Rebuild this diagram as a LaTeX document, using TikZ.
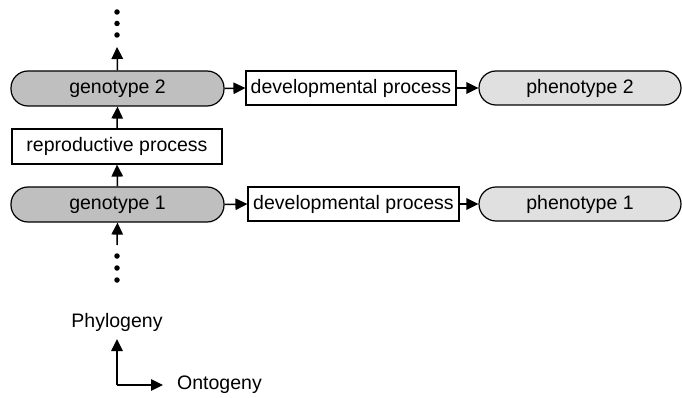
\documentclass[tikz,border=0pt]{standalone}
\usepackage{fontspec}
\setmainfont{Liberation Sans}
\usetikzlibrary{arrows.meta}
\begin{document}
\begin{tikzpicture}[x=1pt,y=-1pt,
  every node/.style={font=\fontsize{19.5}{22}\selectfont, inner sep=0pt},
  geno/.style={draw, line width=1.2pt, fill=black!25, rounded corners=17pt, minimum width=213pt, minimum height=35pt},
  pheno/.style={draw, line width=1.2pt, fill=black!12, rounded corners=17pt, minimum width=202pt, minimum height=34pt},
  proc/.style={draw, line width=1.2pt, fill=white, minimum height=34pt},
  conn/.style={line width=1.5pt, -{Triangle[length=12pt,width=11.5pt]}},
  dot/.style={circle, fill=black, minimum size=5.5pt, inner sep=0pt}]
\useasboundingbox (0,0) rectangle (682,398);
\node[geno] (g2) at (117.5,88.5) {genotype 2};
\node[proc, minimum width=210pt, minimum height=35pt] (rp) at (117,146.5) {reproductive process};
\node[geno] (g1) at (117.5,204.5) {genotype 1};
\node[proc, minimum width=210pt] (d2) at (351,88) {developmental process};
\node[proc, minimum width=211pt] (d1) at (353.5,204) {developmental process};
\node[pheno] (p2) at (580,88) {phenotype 2};
\node[pheno] (p1) at (580,204) {phenotype 1};
\node[dot] (t1) at (117,12) {};
\node[dot] (t2) at (117,23.5) {};
\node[dot] (t3) at (117,35) {};
\node[dot] (b1) at (117,256) {};
\node[dot] (b2) at (117,268) {};
\node[dot] (b3) at (117,280) {};
\coordinate (ttip) at (117,47);
\coordinate (bstart) at (117,245);
\draw[conn] (g2.north) -- (ttip);
\draw[conn] (rp.north) -- (g2.south);
\draw[conn] (g1.north) -- (rp.south);
\draw[conn] (bstart) -- (g1.south);
\draw[conn] (g2.east) -- (d2.west);
\draw[conn] (d2.east) -- (p2.west);
\draw[conn] (g1.east) -- (d1.west);
\draw[conn] (d1.east) -- (p1.west);
\node (phy) at (117,322) {Phylogeny};
\node[anchor=west] (ont) at (177,385) {Ontogeny};
\coordinate (corner) at (117,385);
\coordinate (uptip) at (117,339);
\coordinate (righttip) at (163,385);
\draw[conn] (corner) -- (uptip);
\draw[conn] (corner) -- (righttip);
\end{tikzpicture}
\end{document}
